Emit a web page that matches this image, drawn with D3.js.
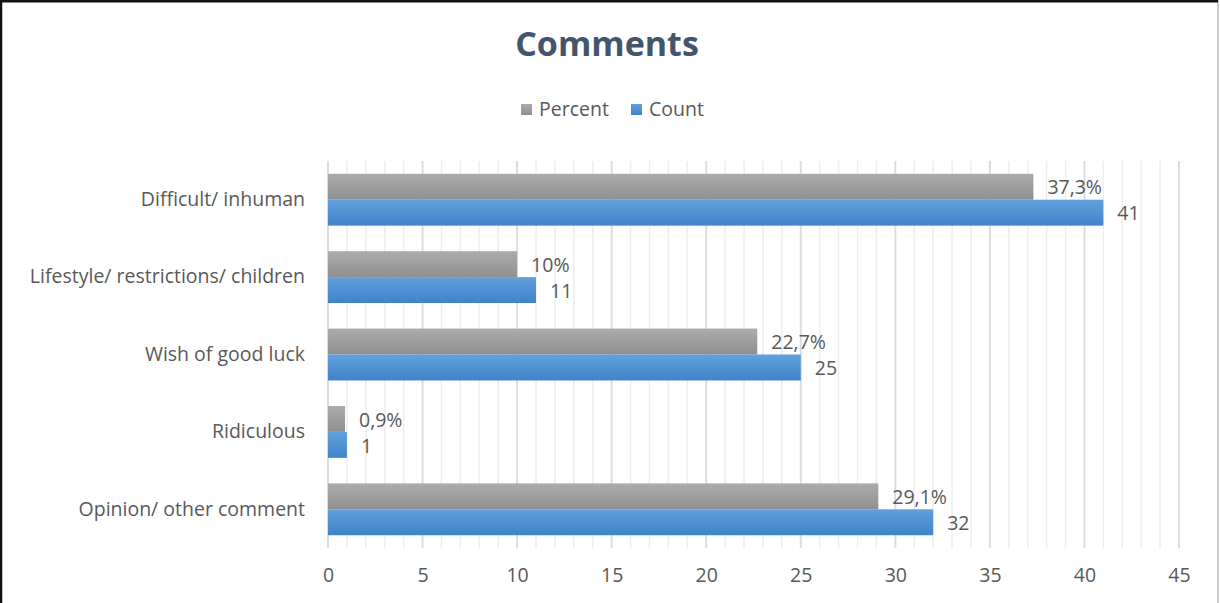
<!DOCTYPE html>
<html>
<head>
<meta charset="utf-8">
<script src="https://cdn.jsdelivr.net/npm/d3@7"></script>
<style>
  html, body { margin: 0; padding: 0; background: #fff; }
  svg { display: block; }
  text { font-family: "Open Sans", Lato, sans-serif; }
</style>
</head>
<body>
<svg id="chart" width="1220" height="603"></svg>
<script>
// Categories, top to bottom
const categories = [
  "Difficult/ inhuman",
  "Lifestyle/ restrictions/ children",
  "Wish of good luck",
  "Ridiculous",
  "Opinion/ other comment"
];
// Share of all comments (%)
const percentValues = [37.3, 10, 22.7, 0.9, 29.1];
// Number of comments
const countValues = [41, 11, 25, 1, 32];
const xTicks = [0, 5, 10, 15, 20, 25, 30, 35, 40, 45];
const seriesNames = ["Percent", "Count"];

const W = 1220, H = 603;
const margin = { left: 328, right: 1220 - 1179, top: 161, bottom: 603 - 548 };
const FONT = "'Open Sans', Lato, sans-serif";
const FS = 19.5;

const svg = d3.select("#chart");

// gradients for bars
const defs = svg.append("defs");
function grad(id, top, bottom) {
  const g = defs.append("linearGradient").attr("id", id)
    .attr("x1", 0).attr("y1", 0).attr("x2", 0).attr("y2", 1);
  g.append("stop").attr("offset", "0%").attr("stop-color", top);
  g.append("stop").attr("offset", "100%").attr("stop-color", bottom);
}
grad("gPercent", "#acacac", "#8f8f8f");
grad("gCount", "#62a0dc", "#3f84c8");

// frame
svg.append("rect").attr("x", 1).attr("y", 1).attr("width", W - 3).attr("height", H + 10)
  .attr("fill", "#fff").attr("stroke", "#bfbfbf").attr("stroke-width", 1.5);
svg.append("line").attr("x1", 1).attr("x2", 1).attr("y1", 0).attr("y2", H)
  .attr("stroke", "#111").attr("stroke-width", 2.5);
svg.append("line").attr("x1", 0).attr("x2", W - 2).attr("y1", 1.2).attr("y2", 1.2)
  .attr("stroke", "#111").attr("stroke-width", 2.5);

const x = d3.scaleLinear().domain([0, 45]).range([margin.left, W - margin.right]);
const y = d3.scaleBand().domain(categories)
  .range([margin.top, H - margin.bottom])
  .paddingInner(0.33).paddingOuter(0.165);
const sub = d3.scaleBand().domain(seriesNames).range([0, y.bandwidth()]);

// minor gridlines every 1, major every 5
const grid = svg.append("g");
grid.selectAll("line.minor").data(d3.range(1, 46).filter(v => v % 5 !== 0))
  .join("line").attr("class", "minor")
  .attr("x1", d => x(d)).attr("x2", d => x(d))
  .attr("y1", margin.top).attr("y2", H - margin.bottom)
  .attr("stroke", "#ededed").attr("stroke-width", 1.5);
grid.selectAll("line.major").data(xTicks)
  .join("line").attr("class", "major")
  .attr("x1", d => x(d)).attr("x2", d => x(d))
  .attr("y1", margin.top).attr("y2", H - margin.bottom)
  .attr("stroke", "#d9dde3").attr("stroke-width", 2);

// bars
const rows = categories.map((c, i) => ({ c, p: percentValues[i], n: countValues[i] }));
const g = svg.append("g");
const rowG = g.selectAll("g.row").data(rows).join("g").attr("class", "row")
  .attr("transform", d => `translate(0,${y(d.c)})`);

rowG.append("rect")
  .attr("x", x(0)).attr("y", sub("Percent"))
  .attr("width", d => x(d.p) - x(0)).attr("height", sub.bandwidth())
  .attr("fill", "url(#gPercent)");
rowG.append("rect")
  .attr("x", x(0)).attr("y", sub("Count"))
  .attr("width", d => x(d.n) - x(0)).attr("height", sub.bandwidth())
  .attr("fill", "url(#gCount)");

const fmtPct = v => String(v).replace(".", ",") + "%";
rowG.append("text")
  .attr("x", d => x(d.p) + 14).attr("y", sub("Percent") + sub.bandwidth() / 2 + 2.5)
  .attr("dominant-baseline", "middle")
  .attr("font-size", FS).attr("fill", "#595959")
  .text(d => fmtPct(d.p));
rowG.append("text")
  .attr("x", d => x(d.n) + 14).attr("y", sub("Count") + sub.bandwidth() / 2 + 2.5)
  .attr("dominant-baseline", "middle")
  .attr("font-size", FS).attr("fill", "#595959")
  .text(d => d.n);

// category axis labels
svg.append("g").selectAll("text").data(categories).join("text")
  .attr("x", 305).attr("y", d => y(d) + y.bandwidth() / 2 + 1)
  .attr("text-anchor", "end").attr("dominant-baseline", "middle")
  .attr("font-size", FS).attr("fill", "#595959")
  .text(d => d);

// value axis
const xAxis = svg.append("g")
  .attr("transform", `translate(0,${H - margin.bottom})`)
  .call(d3.axisBottom(x).tickValues(xTicks).tickSize(0).tickPadding(20));
xAxis.select(".domain").remove();
xAxis.selectAll("text").attr("font-size", FS).attr("fill", "#595959")
  .attr("font-family", FONT);

// title
svg.append("text").attr("x", 607).attr("y", 56)
  .attr("text-anchor", "middle").attr("font-size", 34).attr("font-weight", "bold")
  .attr("fill", "#44546a").text("Comments");

// legend
const legend = svg.append("g");
const legendItems = [
  { name: "Percent", fill: "url(#gPercent)", x: 521 },
  { name: "Count", fill: "url(#gCount)", x: 631 }
];
const li = legend.selectAll("g").data(legendItems).join("g")
  .attr("transform", d => `translate(${d.x},104)`);
li.append("rect").attr("width", 11).attr("height", 11).attr("fill", d => d.fill);
li.append("text").attr("x", 18).attr("y", 7)
  .attr("dominant-baseline", "middle").attr("font-size", FS).attr("fill", "#595959")
  .text(d => d.name);
</script>
</body>
</html>
